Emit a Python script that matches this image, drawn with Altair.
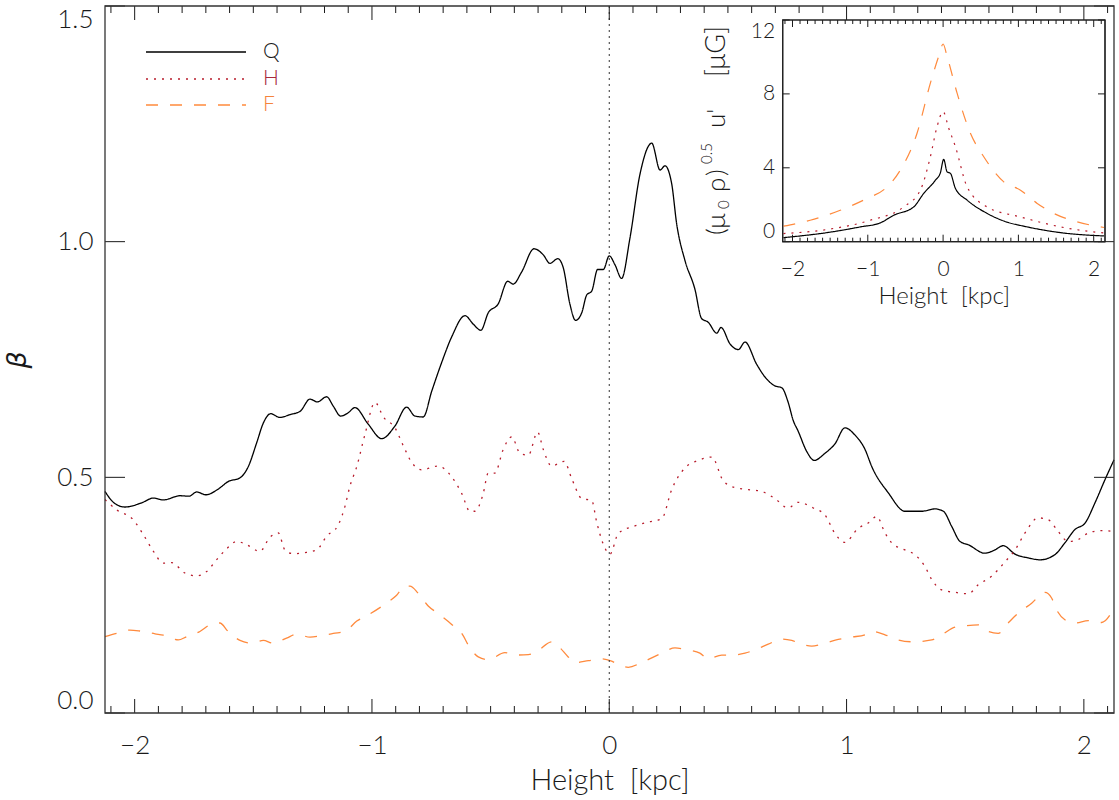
import altair as alt
import pandas as pd

# ---------------- data ----------------
Q_X = [-2.125, -2.085, -2.041, -1.970, -1.921, -1.879, -1.809, -1.770, -1.739, -1.700,
       -1.648, -1.606, -1.556, -1.521, -1.486, -1.458, -1.427, -1.388, -1.346, -1.303,
       -1.261, -1.230, -1.191, -1.163, -1.132, -1.100, -1.072, -1.016, -0.959, -0.903,
       -0.854, -0.819, -0.784, -0.748, -0.706, -0.664, -0.608, -0.573, -0.541, -0.510,
       -0.468, -0.428, -0.405, -0.369, -0.317, -0.278, -0.250, -0.217, -0.194, -0.166,
       -0.142, -0.116, -0.095, -0.074, -0.049, -0.025, 0.000, 0.024, 0.052, 0.087,
       0.129, 0.179, 0.214, 0.235, 0.263, 0.284, 0.319, 0.361, 0.389, 0.417,
       0.453, 0.471, 0.509, 0.544, 0.572, 0.621, 0.656, 0.698, 0.727, 0.754,
       0.775, 0.796, 0.832, 0.864, 0.909, 0.951, 0.993, 1.035, 1.078, 1.106,
       1.176, 1.246, 1.316, 1.373, 1.408, 1.443, 1.478, 1.513, 1.583, 1.625,
       1.660, 1.710, 1.766, 1.815, 1.878, 1.920, 1.962, 2.005, 2.047, 2.089, 2.127]
Q_Y = [0.470, 0.445, 0.437, 0.446, 0.456, 0.452, 0.461, 0.460, 0.469, 0.463,
       0.475, 0.491, 0.499, 0.523, 0.573, 0.615, 0.635, 0.627, 0.633, 0.640,
       0.666, 0.660, 0.671, 0.651, 0.630, 0.637, 0.648, 0.613, 0.582, 0.609,
       0.649, 0.630, 0.628, 0.683, 0.744, 0.798, 0.843, 0.825, 0.812, 0.849,
       0.868, 0.916, 0.910, 0.936, 0.985, 0.972, 0.954, 0.964, 0.945, 0.868,
       0.833, 0.849, 0.887, 0.895, 0.941, 0.941, 0.970, 0.951, 0.922, 1.007,
       1.142, 1.209, 1.152, 1.161, 1.123, 1.038, 0.960, 0.899, 0.837, 0.829,
       0.806, 0.818, 0.783, 0.771, 0.787, 0.740, 0.713, 0.694, 0.690, 0.659,
       0.621, 0.598, 0.555, 0.536, 0.551, 0.571, 0.605, 0.590, 0.559, 0.523,
       0.467, 0.428, 0.428, 0.433, 0.428, 0.396, 0.364, 0.357, 0.339, 0.346,
       0.355, 0.337, 0.329, 0.325, 0.336, 0.361, 0.389, 0.403, 0.446, 0.495, 0.537]

H_X = [-2.125, -2.076, -2.006, -1.963, -1.921, -1.879, -1.844, -1.788, -1.739, -1.697,
       -1.655, -1.613, -1.570, -1.528, -1.472, -1.430, -1.395, -1.367, -1.332, -1.275,
       -1.233, -1.191, -1.142, -1.114, -1.093, -1.064, -1.030, -0.987, -0.952, -0.903,
       -0.868, -0.833, -0.791, -0.721, -0.664, -0.622, -0.587, -0.566, -0.531, -0.510,
       -0.482, -0.447, -0.411, -0.376, -0.341, -0.302, -0.278, -0.243, -0.190, -0.158,
       -0.116, -0.074, -0.053, -0.025, 0.003, 0.038, 0.108, 0.164, 0.221, 0.263,
       0.319, 0.375, 0.432, 0.480, 0.530, 0.586, 0.642, 0.698, 0.754, 0.796,
       0.860, 0.909, 0.951, 0.993, 1.049, 1.091, 1.127, 1.162, 1.190, 1.246,
       1.288, 1.330, 1.359, 1.401, 1.457, 1.513, 1.555, 1.611, 1.668, 1.710,
       1.752, 1.808, 1.850, 1.892, 1.934, 1.976, 2.019, 2.075, 2.127]
H_Y = [0.453, 0.431, 0.410, 0.378, 0.343, 0.318, 0.319, 0.297, 0.291, 0.300,
       0.325, 0.348, 0.364, 0.357, 0.343, 0.373, 0.382, 0.346, 0.338, 0.341,
       0.346, 0.375, 0.399, 0.438, 0.481, 0.523, 0.590, 0.659, 0.628, 0.605,
       0.567, 0.532, 0.516, 0.524, 0.501, 0.466, 0.428, 0.428, 0.466, 0.509,
       0.509, 0.559, 0.586, 0.551, 0.547, 0.596, 0.559, 0.524, 0.534, 0.497,
       0.455, 0.451, 0.405, 0.358, 0.337, 0.381, 0.397, 0.405, 0.412, 0.474,
       0.520, 0.536, 0.543, 0.493, 0.478, 0.474, 0.470, 0.455, 0.435, 0.447,
       0.435, 0.420, 0.381, 0.362, 0.392, 0.403, 0.417, 0.382, 0.361, 0.346,
       0.336, 0.311, 0.283, 0.261, 0.256, 0.253, 0.272, 0.290, 0.321, 0.346,
       0.382, 0.414, 0.410, 0.385, 0.364, 0.368, 0.382, 0.387, 0.385]

F_X = [-2.125, -2.076, -2.020, -1.978, -1.914, -1.879, -1.816, -1.781, -1.725, -1.683,
       -1.641, -1.606, -1.556, -1.507, -1.458, -1.416, -1.360, -1.317, -1.261, -1.212,
       -1.163, -1.114, -1.064, -1.016, -0.945, -0.896, -0.861, -0.840, -0.805, -0.763,
       -0.721, -0.664, -0.622, -0.587, -0.552, -0.510, -0.440, -0.397, -0.341, -0.306,
       -0.243, -0.215, -0.173, -0.145, -0.088, -0.032, 0.010, 0.038, 0.080, 0.136,
       0.221, 0.277, 0.326, 0.382, 0.417, 0.474, 0.516, 0.572, 0.614, 0.670,
       0.727, 0.769, 0.811, 0.853, 0.909, 0.965, 1.022, 1.078, 1.106, 1.162,
       1.218, 1.281, 1.359, 1.401, 1.457, 1.499, 1.555, 1.597, 1.639, 1.681,
       1.724, 1.780, 1.836, 1.864, 1.885, 1.920, 1.962, 2.019, 2.075, 2.127]
F_Y = [0.162, 0.169, 0.176, 0.174, 0.168, 0.165, 0.155, 0.162, 0.173, 0.187,
       0.191, 0.173, 0.154, 0.148, 0.154, 0.148, 0.159, 0.167, 0.161, 0.164,
       0.169, 0.173, 0.195, 0.208, 0.231, 0.250, 0.269, 0.269, 0.254, 0.227,
       0.211, 0.188, 0.169, 0.138, 0.119, 0.113, 0.128, 0.123, 0.124, 0.130,
       0.151, 0.142, 0.119, 0.107, 0.111, 0.115, 0.110, 0.103, 0.097, 0.107,
       0.127, 0.138, 0.134, 0.127, 0.115, 0.123, 0.123, 0.127, 0.134, 0.146,
       0.157, 0.154, 0.146, 0.142, 0.148, 0.156, 0.161, 0.166, 0.173, 0.166,
       0.155, 0.151, 0.155, 0.166, 0.182, 0.185, 0.187, 0.173, 0.169, 0.191,
       0.212, 0.233, 0.256, 0.244, 0.219, 0.198, 0.191, 0.196, 0.192, 0.222]

# inset: (mu0 rho)^0.5 u'  [muG]
IQ_X = [-2.12, -1.543, -1.10, -0.834, -0.657, -0.391, -0.258, -0.102, -0.036, 0.008,
        0.053, 0.097, 0.164, 0.319, 0.585, 0.806, 1.117, 1.56, 2.136]
IQ_Y = [0.22, 0.49, 0.80, 1.02, 1.43, 1.88, 2.61, 3.33, 3.73, 4.46,
        3.78, 3.70, 2.88, 2.25, 1.53, 1.12, 0.80, 0.49, 0.31]
IH_X = [-2.12, -1.543, -0.967, -0.524, -0.302, -0.169, -0.08, 0.0, 0.075, 0.164,
        0.319, 0.585, 1.028, 1.56, 2.136]
IH_Y = [0.44, 0.66, 1.16, 1.88, 2.79, 4.60, 6.23, 7.04, 6.14, 5.14,
        2.97, 1.88, 1.34, 0.80, 0.47]
IF_X = [-2.12, -1.765, -1.366, -1.011, -0.767, -0.568, -0.346, -0.169, -0.059, 0.0,
        0.053, 0.186, 0.363, 0.54, 0.806, 1.028, 1.25, 1.471, 1.782, 2.136]
IF_Y = [0.84, 1.16, 1.70, 2.34, 2.88, 3.88, 5.87, 8.58, 10.03, 10.7,
        10.03, 8.04, 5.87, 4.60, 3.24, 2.79, 2.07, 1.53, 1.07, 0.77]

SERIES = ["Q", "H", "F"]
COLORS = ["#000000", "#b81c2c", "#ff8a3d"]
LABEL_COLORS = ["#1a1a1a", "#a8283a", "#f5843c"]
DASHES = [[1, 0], [2, 6], [12, 12]]

X_MAJOR = [-2, -1, 0, 1, 2]
X_MINOR = [round(-2.1 + 0.1 * i, 1) for i in range(43) if abs(round(-2.1 + 0.1 * i, 1) - round(-2.1 + 0.1 * i)) > 1e-9]
Y_MAJOR = [0.0, 0.5, 1.0, 1.5]
IY_MAJOR = [0, 4, 8, 12]

# ---------------- layout ----------------
W, H = 1009, 707
FONT = "Lato"
FW = 300
INK = "#1a1a1a"

XD = [-2.125, 2.127]
YD = [0.0, 1.5]
IXL, IXR, IYB, IYT = 677.7, 1000.0, 235.7, 14.0


def xs():
    return alt.Scale(domain=XD, nice=False, zero=False)


def ys():
    return alt.Scale(domain=YD, nice=False, zero=False)


def ixs():
    return alt.Scale(domain=[-2.13, 2.15], range=[IXL, IXR], nice=False, zero=False)


def iys():
    return alt.Scale(domain=[0, 12], range=[IYB, IYT], nice=False, zero=False)


def frame(df_x, df_y, names):
    rows = []
    for xs_, ys_, n in zip(df_x, df_y, names):
        rows += [{"x": a, "y": b, "s": n} for a, b in zip(xs_, ys_)]
    return pd.DataFrame(rows)


color_enc = alt.Color("s:N", scale=alt.Scale(domain=SERIES, range=COLORS), legend=None)
dash_enc = alt.StrokeDash("s:N", scale=alt.Scale(domain=SERIES, range=DASHES), legend=None)

main_df = frame([Q_X, H_X, F_X], [Q_Y, H_Y, F_Y], SERIES)
inset_df = frame([IQ_X, IH_X, IF_X], [IQ_Y, IH_Y, IF_Y], SERIES)

main_lines = alt.Chart(main_df).mark_line(strokeWidth=1.3, interpolate="monotone").encode(
    x=alt.X("x:Q", scale=xs(), axis=alt.Axis(
        orient="bottom", values=X_MAJOR, format="d", ticks=False, tickSize=0, domain=False, grid=False,
        labelFont=FONT, labelFontWeight=FW, labelFontSize=26, labelColor=INK, labelPadding=32,
        labelBaseline="middle",
        title="Height \u00a0[kpc]", titleFont=FONT, titleFontSize=29, titleFontWeight=FW,
        titleColor=INK, titleBaseline="middle", titleY=67, zindex=1)),
    y=alt.Y("y:Q", scale=ys(), axis=alt.Axis(
        orient="left", values=Y_MAJOR, format=".1f", ticks=False, tickSize=0, domain=False, grid=False,
        labelFont=FONT, labelFontWeight=FW, labelFontSize=26, labelColor=INK, labelPadding=12,
        labelFlush=True, labelFlushOffset=0,
        title="β", titleFont="DejaVu Sans", titleFontSize=27, titleFontStyle="italic",
        titleFontWeight="normal", titleColor=INK, titleAngle=270, titleBaseline="middle",
        titleX=-88, titleY=H / 2, zindex=1)),
    color=color_enc,
    strokeDash=dash_enc,
)

zero_line = alt.Chart(pd.DataFrame({"v": [0]})).mark_rule(
    color="#333333", strokeWidth=1, strokeDash=[2, 4]).encode(
    x=alt.X("v:Q", scale=xs(), axis=None), y=alt.value(0), y2=alt.value(H))


def xticks(vals, scale_fn, y0, y1):
    return alt.Chart(pd.DataFrame({"v": vals})).mark_rule(color=INK, strokeWidth=1).encode(
        x=alt.X("v:Q", scale=scale_fn(), axis=None), y=alt.value(y0), y2=alt.value(y1))


def yticks(vals, scale_fn, x0, x1):
    return alt.Chart(pd.DataFrame({"v": vals})).mark_rule(color=INK, strokeWidth=1).encode(
        y=alt.Y("v:Q", scale=scale_fn(), axis=None), x=alt.value(x0), x2=alt.value(x1))


one = pd.DataFrame({"a": [0]})

main_frame = alt.Chart(one).mark_rect(fillOpacity=0, stroke="#333333", strokeWidth=1.3).encode(
    x=alt.value(0), x2=alt.value(W), y=alt.value(0), y2=alt.value(H))

main_ticks = [
    xticks(X_MAJOR, xs, H, H - 14), xticks(X_MINOR, xs, H, H - 7),
    xticks(X_MAJOR, xs, 0, 14), xticks(X_MINOR, xs, 0, 7),
    yticks(Y_MAJOR, ys, 0, 20), yticks(Y_MAJOR, ys, W, W - 20),
]

# legend
legend_layers = []
LEG_Y = [46, 73, 99]
for name, col, lcol, dash, ly in zip(SERIES, COLORS, LABEL_COLORS, DASHES, LEG_Y):
    legend_layers.append(alt.Chart(one).mark_rule(
        color=col, strokeWidth=1.3 if name != "H" else 1.5, strokeDash=dash).encode(
        x=alt.value(41), x2=alt.value(141), y=alt.value(ly)))
    legend_layers.append(alt.Chart(one).mark_text(
        text=name, font=FONT, fontWeight=FW, fontSize=21, color=lcol,
        align="left", baseline="middle").encode(x=alt.value(158), y=alt.value(ly)))

# inset
inset_bg = alt.Chart(pd.DataFrame({"x": [-2.13], "x2": [2.15], "y": [0], "y2": [12]})).mark_rect(
    fill="white", stroke="#222222", strokeWidth=1.2).encode(
    x=alt.X("x:Q", scale=ixs(), axis=None), x2="x2:Q",
    y=alt.Y("y:Q", scale=iys(), axis=None), y2="y2:Q")

inset_lines = alt.Chart(inset_df).mark_line(strokeWidth=1.2, interpolate="monotone").encode(
    x=alt.X("x:Q", scale=ixs(), axis=alt.Axis(
        orient="bottom", offset=-(H - IYB), values=X_MAJOR, format="d", ticks=False, tickSize=0,
        domain=False, grid=False, labelFont=FONT, labelFontWeight=FW, labelFontSize=21,
        labelColor=INK, labelPadding=28, labelBaseline="middle",
        title="Height \u00a0[kpc]", titleFont=FONT, titleFontSize=24, titleFontWeight=FW,
        titleColor=INK, titleBaseline="middle", titleY=55, zindex=1)),
    y=alt.Y("y:Q", scale=iys(), axis=alt.Axis(
        orient="left", offset=-IXL, values=IY_MAJOR, format="d", ticks=False, tickSize=0,
        domain=False, grid=False, labelFont=FONT, labelFontWeight=FW, labelFontSize=21,
        labelColor=INK, labelPadding=8, labelFlush=True, labelFlushOffset=0, title="", zindex=1)),
    color=color_enc,
    strokeDash=dash_enc,
)

inset_ticks = [
    xticks(X_MAJOR, ixs, IYB, IYB - 7), xticks(X_MINOR, ixs, IYB, IYB - 4),
    xticks(X_MAJOR, ixs, IYT, IYT + 7), xticks(X_MINOR, ixs, IYT, IYT + 4),
    yticks(IY_MAJOR, iys, IXL, IXL + 7), yticks(IY_MAJOR, iys, IXR, IXR - 7),
]

inset_frame = alt.Chart(one).mark_rect(fillOpacity=0, stroke="#222222", strokeWidth=1.2).encode(
    x=alt.value(IXL), x2=alt.value(IXR), y=alt.value(IYT), y2=alt.value(IYB))

# rotated inset y title: (μ0 ρ)^0.5 u'  [μG]
TB = 620  # baseline x (plot coords)
title_parts = [
    ("(μ", TB, 229, 26),
    ("0", TB + 4, 203, 15),
    ("ρ", TB, 186, 26),
    (")", TB, 170, 26),
    ("0.5", TB - 13, 158, 15),
    ("u'", TB, 122, 26),
    ("[μG]", TB, 71, 27),
]
title_layers = [
    alt.Chart(one).mark_text(text=t, font=FONT, fontWeight=FW, fontSize=fs, color=INK, angle=270,
                             align="left", baseline="alphabetic").encode(
        x=alt.value(px), y=alt.value(py))
    for t, px, py, fs in title_parts
]

chart = alt.layer(
    main_lines, zero_line, *main_ticks, main_frame, *legend_layers,
    inset_bg, inset_lines, *inset_ticks, inset_frame, *title_layers,
).resolve_scale(
    x="independent", y="independent"
).properties(
    width=W, height=H,
    padding={"left": 105, "top": 6, "right": 5, "bottom": 87},
    autosize=alt.AutoSizeParams(type="none"),
    background="white",
).configure_view(strokeWidth=0)

chart.save("out.html", embed_options={"renderer": "svg", "actions": False})
